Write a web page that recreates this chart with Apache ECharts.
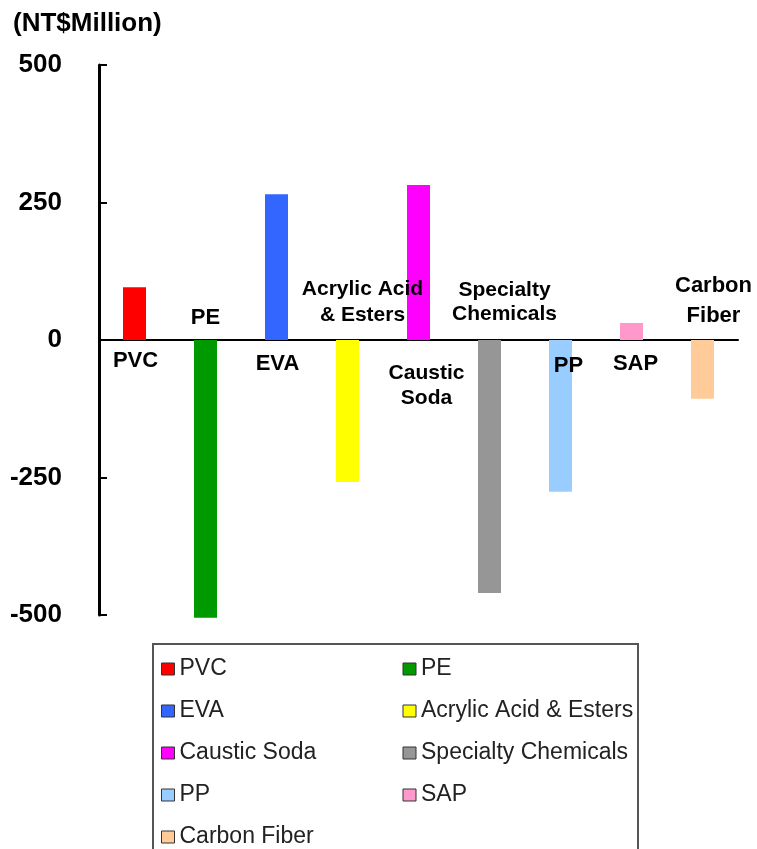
<!DOCTYPE html>
<html>
<head>
<meta charset="utf-8">
<script src="https://cdn.jsdelivr.net/npm/echarts@6/dist/echarts.min.js"></script>
<style>html,body{margin:0;padding:0;background:#fff}#c{width:757px;height:849px}</style>
</head>
<body>
<div id="c"></div>
<script>
// ---- data ----
var categories = ['PVC', 'PE', 'EVA', 'Acrylic Acid & Esters', 'Caustic Soda', 'Specialty Chemicals', 'PP', 'SAP', 'Carbon Fiber'];
var values = [96, -505, 265, -258, 282, -460, -276, 31, -107];
var barLabels = ['PVC', 'PE', 'EVA', 'Acrylic Acid\n& Esters', 'Caustic\nSoda', 'Specialty\nChemicals', 'PP', 'SAP', 'Carbon\nFiber'];
var yTicks = [-500, -250, 0, 250, 500];

// ---- style ----
var colors = ['#FF0000', '#009900', '#3366FF', '#FFFF00', '#FF00FF', '#969696', '#99CCFF', '#FF99CC', '#FFCC99'];
// label placement relative to the bar's foot on the zero line: [dx, dy, fontSize, lineHeight]
var labelPlace = [
  [1, 21, 22, 24], [0, -22, 22, 24], [1, 24, 22, 24], [15, -38, 21, 26], [8, 46, 21, 25],
  [15, -38, 21, 24], [8, 26, 22, 24], [4, 24, 22, 24], [11, -39, 22, 30]
];

var chart = echarts.init(document.getElementById('c'));
var font = 'Liberation Sans, Arial, Helvetica, sans-serif';

var series = categories.map(function (name, i) {
  var d = categories.map(function (_, j) { return j === i ? values[i] : null; });
  return {
    name: name,
    type: 'bar',
    data: d,
    barWidth: 23,
    barGap: '-100%',
    clip: false,
    itemStyle: { color: colors[i] },
    emphasis: { disabled: true }
  };
});

series.push({
  name: 'labels',
  type: 'scatter',
  symbolSize: 0,
  silent: true,
  z: 10,
  itemStyle: { color: '#000', opacity: 1 },
  emphasis: { disabled: true },
  data: categories.map(function (c, i) {
    var p = labelPlace[i];
    return {
      value: [i, 0],
      label: {
        show: true,
        position: 'inside',
        offset: [p[0], p[1]],
        fontSize: p[2],
        lineHeight: p[3],
        formatter: barLabels[i]
      }
    };
  }),
  label: {
    show: true,
    color: '#000',
    opacity: 1,
    textBorderWidth: 0,
    textBorderColor: 'transparent',
    fontWeight: 'bold',
    fontFamily: font,
    align: 'center',
    verticalAlign: 'middle'
  }
});

chart.setOption({
  animation: false,
  backgroundColor: '#fff',
  title: {
    text: '(NT$Million)',
    left: 13,
    top: 11,
    padding: 0,
    textStyle: { fontFamily: font, fontWeight: 'bold', fontSize: 26, color: '#000' }
  },
  grid: { left: 99, right: 19, top: 65, bottom: 234, containLabel: false },
  xAxis: {
    type: 'category',
    data: categories,
    boundaryGap: true,
    axisLine: { show: true, onZero: true, lineStyle: { color: '#000', width: 2 } },
    axisTick: { show: false },
    axisLabel: { show: false },
    splitLine: { show: false }
  },
  yAxis: {
    type: 'value',
    min: yTicks[0],
    max: yTicks[yTicks.length - 1],
    interval: 250,
    axisLine: { show: true, lineStyle: { color: '#000', width: 3 } },
    axisTick: { show: true, inside: true, length: 8, lineStyle: { color: '#000', width: 2 } },
    axisLabel: { margin: 37, fontFamily: font, fontWeight: 'bold', fontSize: 26, color: '#000' },
    splitLine: { show: false }
  },
  legend: {
    data: categories,
    orient: 'horizontal',
    left: 153,
    top: 644,
    width: 520,
    padding: [8, 2, 20, 8],
    itemGap: 8,
    itemWidth: 13,
    itemHeight: 12,
    icon: 'rect',
    borderColor: '#555',
    borderWidth: 2,
    borderRadius: 0,
    itemStyle: { borderColor: '#333', borderWidth: 1 },
    textStyle: { fontFamily: font, fontSize: 23, color: '#222', width: 215, lineHeight: 34 },
    selectedMode: false
  },
  series: series
});
</script>
</body>
</html>
